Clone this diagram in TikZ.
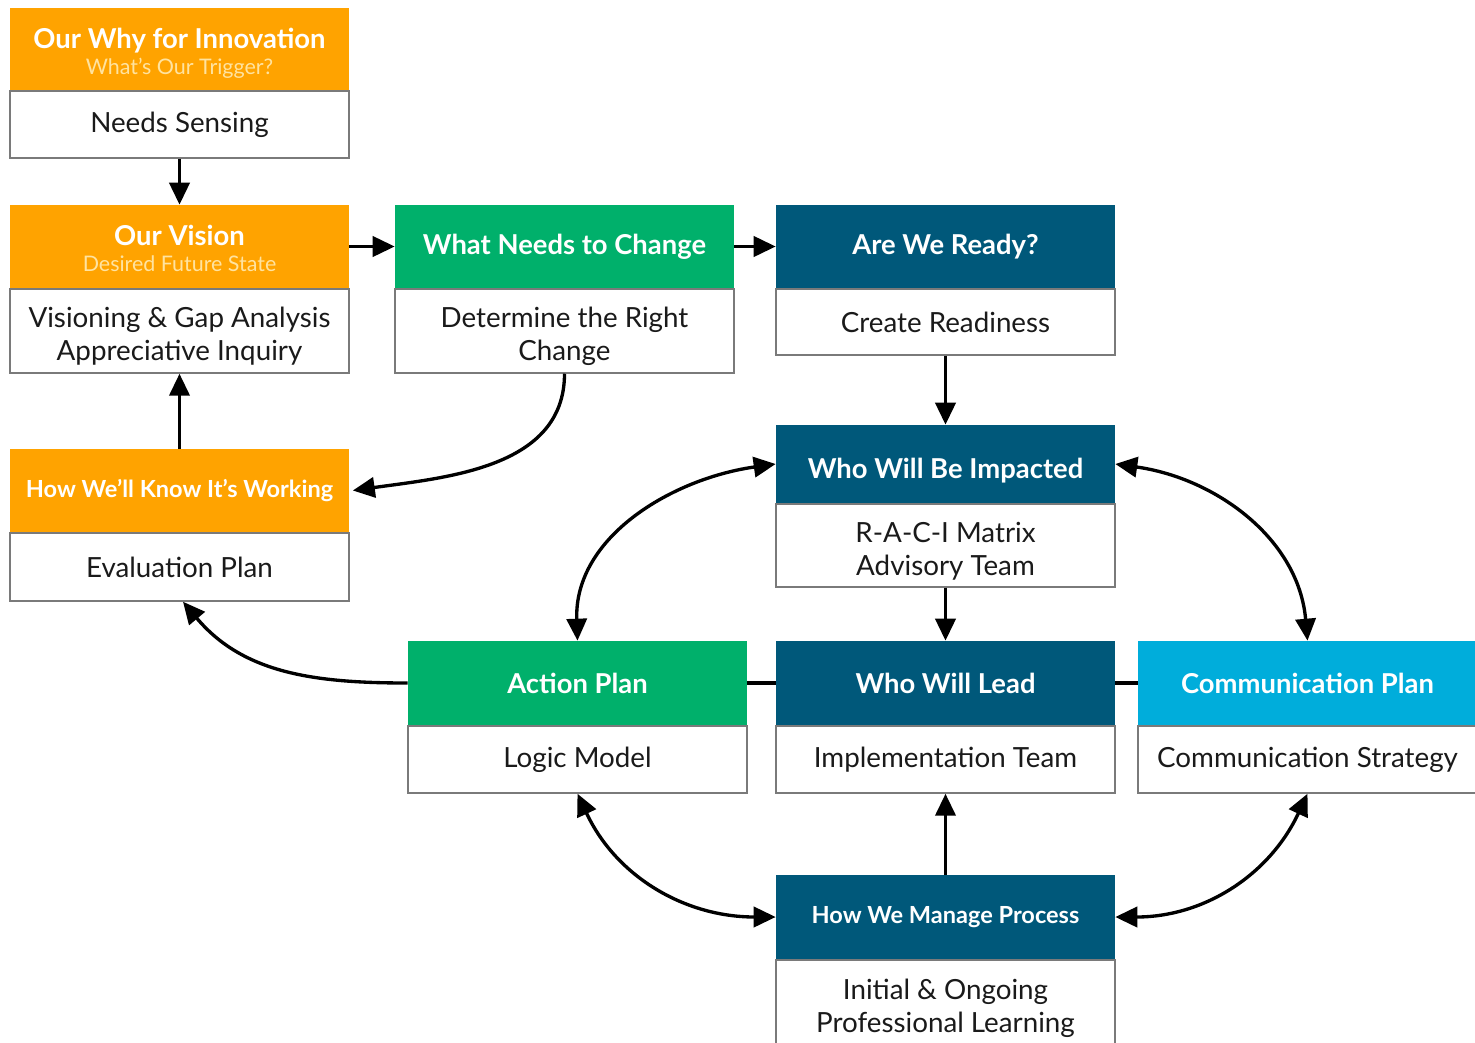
\documentclass[tikz,border=0pt]{standalone}
\usepackage{fontspec}
\setmainfont{Lato}
\usetikzlibrary{arrows.meta}
\definecolor{corange}{HTML}{FFA300}
\definecolor{csub}{HTML}{FFE3A0}
\definecolor{cgreen}{HTML}{00B06B}
\definecolor{cteal}{HTML}{00587A}
\definecolor{ccyan}{HTML}{00ADDB}
\definecolor{cborder}{HTML}{7A7A7A}
\definecolor{ctext}{HTML}{1A1A1A}
\tikzset{
  hdr/.style={fill=#1, inner sep=0pt, minimum width=6.78cm, minimum height=1.66cm,
    text=white, align=center, font=\bfseries\fontsize{15.6}{17}\selectfont},
  smallhdr/.style={font=\bfseries\fontsize{13.4}{16}\selectfont},
  bodybox/.style={draw=cborder, line width=0.8pt, fill=white, inner sep=0pt,
    minimum width=6.78cm, anchor=north, text=ctext, align=center,
    font=\fontsize{15.8}{18.8}\selectfont},
  conn/.style={line width=1.9pt, -{Triangle[length=12.5pt,width=11.5pt]}},
  biconn/.style={line width=1.9pt, {Triangle[length=12.5pt,width=11.5pt]}-{Triangle[length=12.5pt,width=11.5pt]}},
  link/.style={line width=1.9pt},
}
\newcommand{\subline}[1]{{\color{csub}\mdseries\fontsize{12.2}{13}\selectfont #1}}
\newcommand{\hdrtwo}[2]{\raisebox{-3.6pt}[\height][\depth]{\begin{tabular}{@{}c@{}}#1\\[-2.2pt]\subline{#2}\end{tabular}}}
\newcommand{\twol}[3][3.4pt]{\raisebox{-#1}[\height][\depth]{\begin{tabular}{@{}c@{}}#2\\#3\end{tabular}}}
\begin{document}
\begin{tikzpicture}[x=0.02cm,y=-0.02cm]
\useasboundingbox (0,0) rectangle (1475,1042);
\clip (0,0) rectangle (1475,1042);
\fill[white] (0,0) rectangle (1475,1042);

% Our Why
\node[hdr=corange, minimum height=1.64cm] (why-h) at (179.5,49) {\hdrtwo{Our Why for Innovation}{What’s Our Trigger?}};
\node[bodybox, minimum height=1.34cm] (why-b) at (why-h.south) {Needs Sensing};

% Our Vision
\node[hdr=corange] (vis-h) at (179.5,246.5) {\hdrtwo{Our Vision}{Desired Future State}};
\node[bodybox, minimum height=1.68cm] (vis-b) at (vis-h.south) {\twol{Visioning \& Gap Analysis}{Appreciative Inquiry}};

% What Needs to Change
\node[hdr=cgreen] (wn-h) at (564.5,246.5) {What Needs to Change};
\node[bodybox, minimum height=1.68cm] (wn-b) at (wn-h.south) {\twol{Determine the Right}{Change}};

% Are We Ready
\node[hdr=cteal] (rdy-h) at (945.5,246.5) {Are We Ready?};
\node[bodybox, minimum height=1.32cm] (rdy-b) at (rdy-h.south) {Create Readiness};

% How We'll Know
\node[hdr=corange, smallhdr] (how-h) at (179.5,490.5) {How We’ll Know It’s Working};
\node[bodybox, minimum height=1.36cm] (how-b) at (how-h.south) {Evaluation Plan};

% Who Will Be Impacted
\node[hdr=cteal, minimum height=1.56cm] (imp-h) at (945.5,464) {\raisebox{-3.5pt}[\height][\depth]{Who Will Be Impacted}};
\node[bodybox, minimum height=1.66cm] (imp-b) at (imp-h.south) {\twol[4pt]{R-A-C-I Matrix}{Advisory Team}};

% Action Plan
\node[hdr=cgreen, minimum height=1.68cm] (ap-h) at (577.5,683) {Action Plan};
\node[bodybox, minimum height=1.34cm] (ap-b) at (ap-h.south) {Logic Model};

% Who Will Lead
\node[hdr=cteal, minimum height=1.68cm] (wl-h) at (945.5,683) {Who Will Lead};
\node[bodybox, minimum height=1.34cm] (wl-b) at (wl-h.south) {Implementation Team};

% Communication Plan
\node[hdr=ccyan, minimum height=1.68cm] (cp-h) at (1307.5,683) {Communication Plan};
\node[bodybox, minimum height=1.34cm] (cp-b) at (cp-h.south) {Communication Strategy};

% How We Manage Process
\node[hdr=cteal, smallhdr, minimum height=1.68cm] (mg-h) at (945.5,917) {How We Manage Process};
\node[bodybox, minimum height=2.2cm] (mg-b) at (mg-h.south) {};
\node[text=ctext, align=center, font=\fontsize{15.8}{18.8}\selectfont, inner sep=0pt] (mg-t) at (945.5,1008) {Initial \& Ongoing\\Professional Learning};

% connectors
\draw[conn] (why-b.south) -- (vis-h.north);
\draw[conn] (vis-h.east) -- (wn-h.west);
\draw[conn] (wn-h.east) -- (rdy-h.west);
\draw[conn] (rdy-b.south) -- (imp-h.north);
\draw[conn] (how-h.north) -- (vis-b.south);
\draw[conn] (wn-b.south) to[out=-90,in=8] ([xshift=2pt]how-h.east);
\draw[conn] (imp-b.south) -- (wl-h.north);
\draw[conn] (mg-h.north) -- (wl-b.south);
\draw[link] (ap-h.east) -- (wl-h.west);
\draw[link] (wl-h.east) -- (cp-h.west);
\draw[conn] (ap-h.west) to[out=180,in=-50] ([xshift=2pt]how-b.south);
\draw[biconn] (ap-h.north) to[out=92,in=188] (imp-h.west);
\draw[biconn] (imp-h.east) to[out=-8,in=95] (cp-h.north);
\draw[biconn] (ap-b.south) to[out=-65,in=180] (mg-h.west);
\draw[biconn] (mg-h.east) to[out=0,in=-115] (cp-b.south);
\end{tikzpicture}
\end{document}
